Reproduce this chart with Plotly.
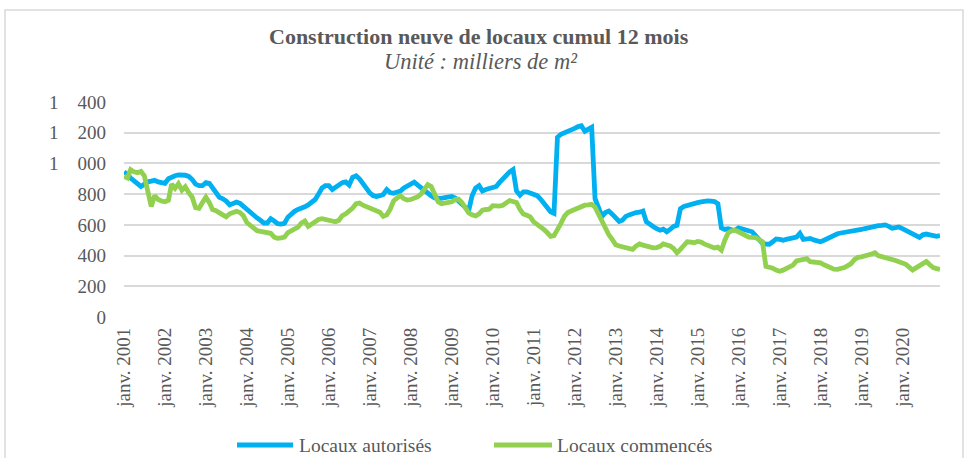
import pandas as pd
import plotly.graph_objects as go

# Monthly values, janv. 2001 -> déc. 2020 (milliers de m², cumul 12 mois)
months = pd.date_range("2001-01-01", periods=240, freq="MS")

autorises = [
    945, 930, 905, 885, 860, 850, 865, 880, 885, 890, 880, 872,   # 2001
    870, 900, 912, 920, 925, 925, 923, 915, 895, 865, 855, 855,   # 2002
    875, 870, 840, 810, 780, 770, 755, 730, 740, 748, 740, 720,   # 2003
    700, 680, 663, 645, 630, 612, 612, 640, 625, 608, 605, 610,   # 2004
    650, 675, 688, 700, 705, 718, 730, 745, 765, 800, 840, 855,   # 2005
    855, 830, 845, 865, 875, 880, 860, 910, 920, 900, 865, 835,   # 2006
    808, 790, 785, 790, 798, 830, 810, 805, 812, 820, 840, 855,   # 2007
    868, 878, 860, 840, 820, 800, 790, 775, 770, 772, 778, 782,   # 2008
    785, 775, 760, 735, 715, 695, 790, 840, 855, 820, 830, 838,   # 2009
    842, 850, 875, 900, 922, 945, 960, 820, 793, 815, 815, 808,   # 2010
    804, 790, 770, 740, 710, 685, 675, 1170, 1190, 1198, 1205, 1215,  # 2011
    1228, 1240, 1245, 1210, 1225, 1235, 770, 700, 655, 680, 690, 670,  # 2012
    640, 622, 630, 655, 665, 675, 680, 682, 690, 620, 600, 590,   # 2013
    575, 565, 572, 555, 570, 590, 597, 705, 720, 728, 735, 740,   # 2014
    745, 750, 756, 756, 755, 752, 738, 580, 570, 575, 568, 565,   # 2015
    580, 575, 565, 560, 555, 530, 505, 480, 475, 474, 490, 508,   # 2016
    505, 500, 505, 511, 515, 520, 545, 505, 508, 512, 502, 495,   # 2017
    490, 500, 510, 522, 537, 542, 547, 550, 554, 560, 566, 568,   # 2018
    570, 576, 582, 588, 593, 595, 597, 600, 590, 578, 582, 586,   # 2019
    575, 565, 552, 540, 530, 518, 535, 540, 535, 530, 525, 530,   # 2020
]

commences = [
    915, 905, 960, 945, 940, 948, 920, 800, 720, 790, 765, 755,   # 2001
    750, 760, 865, 838, 868, 825, 848, 810, 780, 712, 708, 745,   # 2002
    780, 745, 700, 692, 682, 665, 652, 672, 680, 688, 680, 660,   # 2003
    615, 595, 575, 562, 558, 554, 550, 545, 520, 512, 515, 520,   # 2004
    550, 565, 575, 585, 612, 625, 590, 605, 620, 635, 640, 635,   # 2005
    630, 622, 620, 630, 660, 672, 690, 710, 738, 742, 728, 718,   # 2006
    712, 702, 695, 682, 655, 665, 700, 755, 775, 790, 770, 762,   # 2007
    765, 772, 782, 800, 830, 862, 850, 800, 750, 738, 742, 750,   # 2008
    750, 765, 768, 745, 705, 678, 665, 658, 672, 695, 700, 702,   # 2009
    725, 720, 722, 728, 745, 758, 752, 745, 700, 670, 662, 652,   # 2010
    620, 605, 585, 570, 550, 525, 530, 565, 610, 655, 680, 690,   # 2011
    700, 712, 720, 728, 730, 734, 715, 670, 615, 575, 535, 505,   # 2012
    470, 462, 458, 452, 442, 440, 462, 476, 468, 462, 455, 450,   # 2013
    452, 460, 476, 470, 462, 446, 418, 440, 468, 490, 488, 484,   # 2014
    492, 488, 476, 465, 455, 450, 455, 435, 500, 548, 562, 565,   # 2015
    555, 540, 528, 520, 518, 517, 505, 490, 330, 325, 318, 305,   # 2016
    298, 305, 318, 328, 338, 365, 368, 375, 380, 360, 358, 358,   # 2017
    352, 340, 330, 318, 312, 310, 315, 322, 335, 348, 375, 388,   # 2018
    392, 396, 400, 410, 418, 398, 393, 388, 382, 376, 368, 360,   # 2019
    352, 343, 325, 306, 320, 337, 350, 362, 340, 322, 315, 310,   # 2020
]

years = list(range(2001, 2021))
tick_dates = [pd.Timestamp(f"{y}-01-01") for y in years]
tick_text = [f"janv. {y}" for y in years]

y_vals = [0, 200, 400, 600, 800, 1000, 1200, 1400]
y_text = ["0", "200", "400", "600", "800", "1\u2003000", "1\u2003200", "1\u2003400"]

title = "Construction neuve de locaux cumul 12 mois"
subtitle = "Unité : milliers de m²"
series_names = ["Locaux autorisés", "Locaux commencés"]
series_colors = ["#00B0F0", "#92D050"]

FONT = "Liberation Serif"
TXT = "#595959"

fig = go.Figure()
for name, vals, col in zip(series_names, [autorises, commences], series_colors):
    fig.add_trace(go.Scatter(x=months, y=vals, mode="lines", name=name,
                             line=dict(color=col, width=4.8)))

W, H = 968, 458
L, R, T, B = 124, 28, 102, 141
pw, ph = W - L - R, H - T - B

def px(x):
    return (x - L) / pw

def py(y):
    return (H - B - y) / ph

# manual legend (line sample + label)
leg_y = 445
leg_items = [(237, 293, 297), (494, 552, 555)]
shapes = [
    dict(type="rect", xref="paper", yref="paper", x0=px(5), x1=px(963), y0=py(460), y1=py(10),
         line=dict(color="#D9D9D9", width=1.5), fillcolor="rgba(0,0,0,0)", layer="below"),
]
annotations = [
    dict(text=f"<b>{title}</b>", x=px(479), y=py(37), xref="paper", yref="paper",
         showarrow=False, xanchor="center", yanchor="middle",
         font=dict(size=22, family=FONT, color=TXT)),
    dict(text=f"<i>{subtitle}</i>", x=px(481), y=py(62), xref="paper", yref="paper",
         showarrow=False, xanchor="center", yanchor="middle",
         font=dict(size=22.5, family=FONT, color=TXT)),
]
for (x0, x1, tx), name, col in zip(leg_items, series_names, series_colors):
    shapes.append(dict(type="line", xref="paper", yref="paper", x0=px(x0), x1=px(x1),
                       y0=py(leg_y), y1=py(leg_y), line=dict(color=col, width=5)))
    annotations.append(dict(text=name, x=px(tx), y=py(leg_y), xref="paper", yref="paper",
                            showarrow=False, xanchor="left", yanchor="middle",
                            font=dict(size=19.5, family=FONT, color=TXT)))

fig.update_layout(
    width=W, height=H,
    margin=dict(l=L, r=R, t=T, b=B),
    paper_bgcolor="white", plot_bgcolor="white",
    font=dict(family=FONT, color=TXT, size=19),
    showlegend=False,
    xaxis=dict(range=[months[0], months[-1]], tickvals=tick_dates, ticktext=tick_text,
               tickangle=-90, showgrid=False, zeroline=False, showline=False, automargin=False,
               ticks="", ticklabelstandoff=6, tickfont=dict(size=19, family=FONT, color=TXT)),
    yaxis=dict(range=[0, 1400], tickvals=y_vals, ticktext=y_text, showgrid=True, automargin=False,
               gridcolor="#D9D9D9", gridwidth=1.5, zeroline=False, showline=False,
               ticks="", ticklabelstandoff=17, tickfont=dict(size=19, family=FONT, color=TXT)),
    annotations=annotations,
    shapes=shapes,
)

fig.write_html("out.html", config={"displayModeBar": False},
               post_script="document.body.style.margin='0';document.body.style.overflow='hidden';")
